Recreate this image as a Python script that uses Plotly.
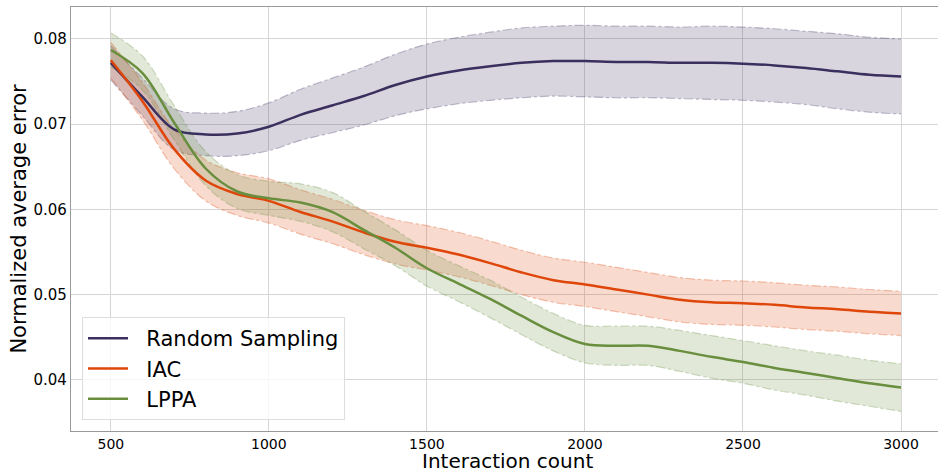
import plotly.graph_objects as go

interaction = [500, 600, 700, 800, 900, 1000, 1100, 1200, 1300, 1400, 1500, 1600, 1700,
               1800, 1900, 2000, 2100, 2200, 2300, 2400, 2500, 2600, 2700, 2800, 2900, 3000]

random_mean = [0.0772, 0.0732, 0.0694, 0.0688, 0.0689, 0.0697, 0.0711, 0.0722, 0.0733, 0.0746,
               0.0756, 0.0763, 0.0768, 0.0772, 0.0774, 0.0774, 0.0773, 0.0773, 0.0772, 0.0772,
               0.0771, 0.0769, 0.0766, 0.0762, 0.0758, 0.0756]
random_std = [0.0020, 0.0022, 0.0024, 0.0025, 0.0026, 0.0028, 0.0030, 0.0032, 0.0034, 0.0036,
              0.0038, 0.0039, 0.0040, 0.0041, 0.0041, 0.0042, 0.0042, 0.0042, 0.0042, 0.0043,
              0.0043, 0.0043, 0.0043, 0.0044, 0.0044, 0.0044]

iac_mean = [0.0775, 0.0727, 0.0671, 0.0634, 0.0618, 0.0610, 0.0597, 0.0586, 0.0573, 0.0562,
            0.0555, 0.0547, 0.0537, 0.0526, 0.0517, 0.0512, 0.0506, 0.0500, 0.0494, 0.0491,
            0.0490, 0.0488, 0.0485, 0.0483, 0.0480, 0.0478]
iac_std = [0.0021, 0.0022, 0.0023, 0.0024, 0.0025, 0.0026, 0.0026, 0.0026, 0.0026, 0.0026,
           0.0026, 0.0026, 0.0026, 0.0026, 0.0026, 0.0026, 0.0026, 0.0026, 0.0026, 0.0026,
           0.0026, 0.0026, 0.0026, 0.0026, 0.0026, 0.0026]

lppa_mean = [0.0787, 0.0760, 0.0702, 0.0648, 0.0621, 0.0613, 0.0608, 0.0597, 0.0576, 0.0555,
             0.0531, 0.0513, 0.0495, 0.0475, 0.0456, 0.0442, 0.0440, 0.0440, 0.0434, 0.0427,
             0.0421, 0.0414, 0.0408, 0.0402, 0.0396, 0.0391]
lppa_std = [0.0020, 0.0020, 0.0020, 0.0020, 0.0020, 0.0020, 0.0022, 0.0023, 0.0022, 0.0021,
            0.0021, 0.0021, 0.0022, 0.0022, 0.0022, 0.0022, 0.0023, 0.0023, 0.0024, 0.0025,
            0.0025, 0.0026, 0.0026, 0.0027, 0.0027, 0.0028]

series = [
    ("Random Sampling", random_mean, random_std, (59, 47, 94)),
    ("IAC", iac_mean, iac_std, (222, 70, 10)),
    ("LPPA", lppa_mean, lppa_std, (104, 142, 62)),
]

FONT = "DejaVu Sans"
fig = go.Figure()

for name, mean, std, (r, g, b) in series:
    upper = [m + s for m, s in zip(mean, std)]
    lower = [m - s for m, s in zip(mean, std)]
    fig.add_trace(go.Scatter(x=interaction, y=upper, mode="lines", line_shape="spline",
                             line=dict(color=f"rgba({r},{g},{b},0.3)", width=1.2, dash="dashdot"),
                             showlegend=False, hoverinfo="skip"))
    fig.add_trace(go.Scatter(x=interaction, y=lower, mode="lines", line_shape="spline",
                             line=dict(color=f"rgba({r},{g},{b},0.3)", width=1.2, dash="dashdot"),
                             fill="tonexty", fillcolor=f"rgba({r},{g},{b},0.2)",
                             showlegend=False, hoverinfo="skip"))

for name, mean, std, (r, g, b) in series:
    fig.add_trace(go.Scatter(x=interaction, y=mean, mode="lines", name="\u00a0\u00a0" + name,
                             line_shape="spline",
                             line=dict(color=f"rgb({r},{g},{b})", width=2.5)))

fig.add_annotation(text="Interaction count", xref="paper", yref="paper",
                   x=0.5033, y=-0.0712, xanchor="center", yanchor="middle",
                   showarrow=False, font=dict(family=FONT, size=20, color="black"))

fig.update_layout(
    width=938, height=473,
    margin=dict(l=71, r=0, t=7, b=42),
    plot_bgcolor="white", paper_bgcolor="white",
    font=dict(family=FONT, color="black", size=15),
    legend=dict(x=0.0127, y=0.026, xanchor="left", yanchor="bottom", traceorder="normal",
                bgcolor="rgba(255,255,255,0.8)", bordercolor="#dddddd", borderwidth=1,
                font=dict(family=FONT, size=21), tracegroupgap=0, itemwidth=40),
    xaxis=dict(range=[374, 3117], tickvals=[500, 1000, 1500, 2000, 2500, 3000],
               showgrid=True, gridcolor="#d6d6d6", gridwidth=1, zeroline=False,
               showline=True, linecolor="#999999", linewidth=1.2, mirror=True, ticks="",
               tickfont=dict(size=14)),
    yaxis=dict(range=[0.0340, 0.08375], tickvals=[0.04, 0.05, 0.06, 0.07, 0.08], tickformat=".2f",
               showgrid=True, gridcolor="#d6d6d6", gridwidth=1, zeroline=False,
               showline=True, linecolor="#999999", linewidth=1.2, mirror=True, ticks="",
               tickfont=dict(size=15),
               title=dict(text="Normalized average error", font=dict(size=21), standoff=1)),
)

fig.write_html("out.html")
